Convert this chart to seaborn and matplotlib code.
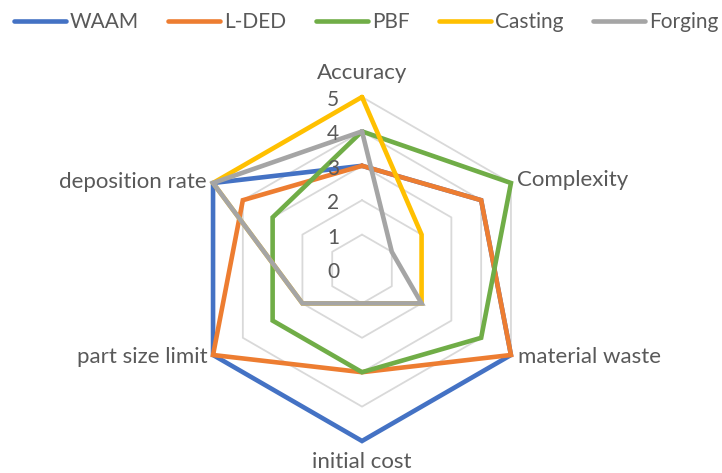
import numpy as np
import pandas as pd
import matplotlib
matplotlib.use("Agg")
import matplotlib.pyplot as plt
import seaborn as sns

# Ratings (0-5) of each manufacturing route on six criteria
categories = ["Accuracy", "Complexity", "material waste", "initial cost",
              "part size limit", "deposition rate"]
processes = ["WAAM", "L-DED", "PBF", "Casting", "Forging"]
waam = [3, 4, 5, 5, 5, 5]
l_ded = [3, 4, 5, 3, 5, 4]
pbf = [4, 5, 4, 3, 3, 3]
casting = [5, 2, 2, 1, 2, 5]
forging = [4, 1, 2, 1, 2, 5]
scale_ticks = [0, 1, 2, 3, 4, 5]
colors = ["#4472C4", "#ED7D31", "#70AD47", "#FFC000", "#A5A5A5"]

sns.set_theme(style="white")
plt.rcParams["font.family"] = ["Lato", "DejaVu Sans"]
text_color = "#595959"

n = len(categories)
angles = np.arange(n) * 2 * np.pi / n
closed_angles = np.append(angles, 2 * np.pi)

rows = []
for name, vals in zip(processes, [waam, l_ded, pbf, casting, forging]):
    for th, v in zip(closed_angles, list(vals) + [vals[0]]):
        rows.append({"process": name, "theta": th, "value": v})
df = pd.DataFrame(rows)

fig = plt.figure(figsize=(7.22, 4.73), dpi=100)
W, H = 722, 473
cx, cy, R = 362, 269, 172
ax = fig.add_axes([(cx - R) / W, (H - cy - R) / H, 2 * R / W, 2 * R / H],
                  projection="polar")
ax.set_theta_zero_location("N")
ax.set_theta_direction(-1)
ax.set_ylim(0, max(scale_ticks))
ax.grid(False)
ax.spines["polar"].set_visible(False)
ax.set_facecolor("none")

# hexagonal gridlines
for r in scale_ticks[1:]:
    ax.plot(closed_angles, [r] * len(closed_angles), color="#D9D9D9",
            lw=1.3, zorder=0, clip_on=False)

lw = 4.6 * 72 / 100
sns.lineplot(data=df, x="theta", y="value", hue="process",
             hue_order=processes, palette=colors, sort=False,
             estimator=None, lw=lw, ax=ax, clip_on=False,
             solid_joinstyle="miter", zorder=3)
ax.set_xlabel("")
ax.set_ylabel("")
ax.set_xticks([])
ax.set_yticks([])
ax.set_ylim(0, max(scale_ticks))

fs_lab = 16
fs_tick = 15
fs_leg = 15
px = 72 / 100  # points per pixel

# scale numbers along the top axis
for v in scale_ticks:
    ax.annotate(str(v), xy=(0, v), xytext=(-29 * px, -3 * px),
                textcoords="offset points", ha="center", va="center",
                fontsize=fs_tick, color=text_color, annotation_clip=False)

# category labels around the outer ring
label_pos = [
    ((0, 24), "center", "center"),
    ((6, 3), "left", "center"),
    ((7, -2), "left", "center"),
    ((0, -21), "center", "center"),
    ((-5, -2), "right", "center"),
    ((-6, 1), "right", "center"),
]
for th, lab, (off, ha, va) in zip(angles, categories, label_pos):
    ax.annotate(lab, xy=(th, max(scale_ticks)),
                xytext=(off[0] * px, off[1] * px), textcoords="offset points",
                ha=ha, va=va, fontsize=fs_lab, color=text_color,
                annotation_clip=False)

sns.move_legend(ax, "center", bbox_to_anchor=(366 / W, 1 - 22 / H),
                bbox_transform=fig.transFigure, ncol=5, frameon=False,
                title=None, fontsize=fs_leg, handlelength=2.5,
                handletextpad=0.2, columnspacing=1.4, borderpad=0,
                borderaxespad=0)
leg = ax.get_legend()
for h in leg.legend_handles:
    h.set_linewidth(lw)
    h.set_solid_capstyle("round")
for t in leg.get_texts():
    t.set_color(text_color)

fig.savefig("out.png", dpi=100, facecolor="white")
